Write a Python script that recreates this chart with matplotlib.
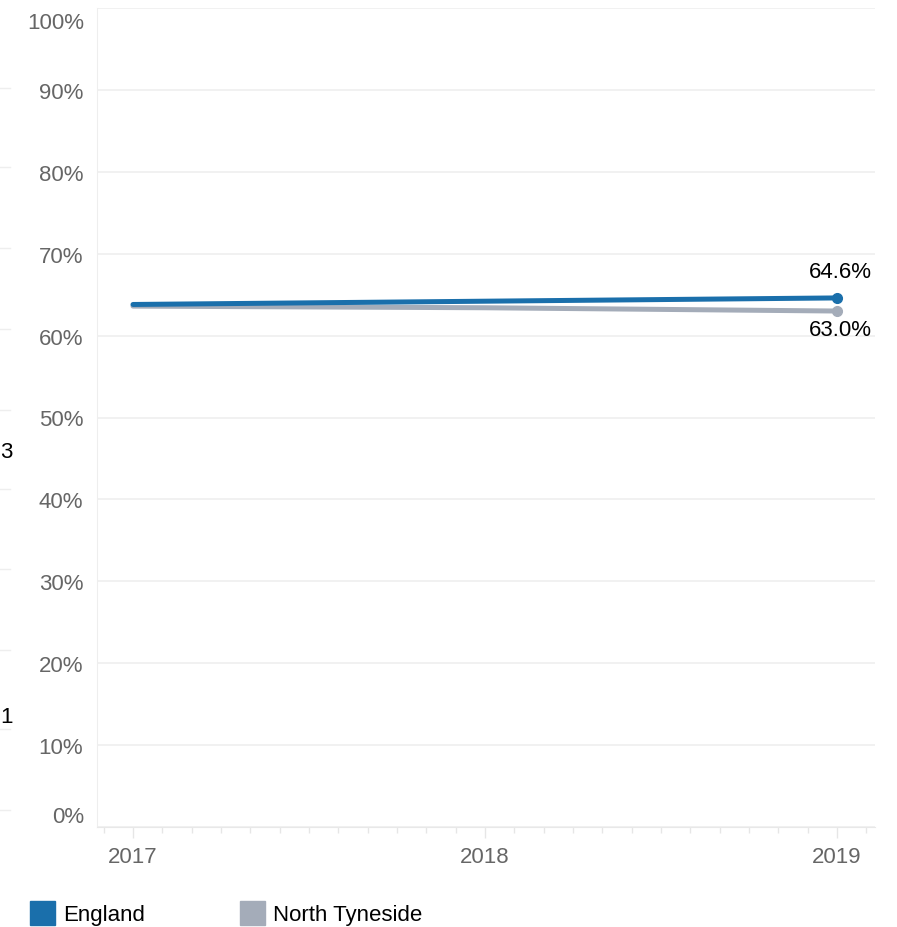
import matplotlib
matplotlib.use("Agg")
import matplotlib.pyplot as plt
from matplotlib.lines import Line2D
from matplotlib.patches import Rectangle

plt.rcParams['font.family'] = ['Liberation Sans', 'DejaVu Sans']

years = [2017, 2018, 2019]
england = [63.8, 64.2, 64.6]
north_tyneside = [63.6, 63.4, 63.0]
series_names = ["England", "North Tyneside"]
colors = ["#1a6fab", "#a4acb9"]
y_ticks = list(range(0, 101, 10))

fig = plt.figure(figsize=(8.97, 9.28), dpi=100)
W, H = 897, 928
ax = fig.add_axes([97 / W, 1 - 828 / H, (875 - 97) / W, (828 - 9) / H])

ax.set_ylim(0, 100)
ax.set_xlim(2017 - 36 / 352, 2019 + 38 / 352)

# gridlines; first and last labels are drawn by hand so they stay inside
ax.set_yticks(y_ticks)
ax.set_yticklabels(["" if t in (0, 100) else f"{t}%" for t in y_ticks])
ax.text(-13 / 778, 1 - 4 / 819, f"{y_ticks[-1]}%", transform=ax.transAxes, ha='right', va='top',
        fontsize=16, color='#666666')
ax.text(-13 / 778, 0, f"{y_ticks[0]}%", transform=ax.transAxes, ha='right', va='bottom',
        fontsize=16, color='#666666')
ax.grid(axis='y', color='#efefef', linewidth=1.2)
ax.set_axisbelow(True)

for s in ['top', 'right']:
    ax.spines[s].set_visible(False)
ax.spines['left'].set_color('#eeeeee')
ax.spines['bottom'].set_color('#e8e8e8')
ax.spines['bottom'].set_linestyle((0, (3, 1)))

ax.set_xticks(years)
ax.set_xticklabels([str(y) for y in years])
ax.set_xticks([years[0] + m / 12 for m in range(-1, 26)], minor=True)
ax.tick_params(axis='x', which='major', length=8, width=1, color='#e6e6e6',
               labelsize=16, labelcolor='#666666', pad=6)
ax.tick_params(axis='x', which='minor', length=4, width=1, color='#e6e6e6')
ax.tick_params(axis='y', length=0, labelsize=16, labelcolor='#666666', pad=10)

for vals, c in zip([north_tyneside, england], [colors[1], colors[0]]):
    ax.plot(years, vals, color=c, lw=3.6, solid_capstyle='round', zorder=3)
    ax.plot(years[-1], vals[-1], 'o', color=c, ms=7, zorder=4)

ax.annotate(f"{england[-1]:.1f}%", (years[-1], england[-1]), xytext=(25, 19),
            textcoords='offset points', ha='right', va='center', fontsize=16)
ax.annotate(f"{north_tyneside[-1]:.1f}%", (years[-1], north_tyneside[-1]), xytext=(25, -13.5),
            textcoords='offset points', ha='right', va='center', fontsize=16)

# legend
for name, c, x0 in zip(series_names, colors, [30, 240]):
    fig.add_artist(Rectangle((x0 / W, 1 - 926 / H), 25 / W, 24 / H,
                             transform=fig.transFigure, color=c))
    fig.text((x0 + 33) / W, 1 - 921 / H, name, fontsize=16, va='baseline', ha='left')

# fragments of neighbouring chart at the left edge
for gy in [89, 168, 249, 330, 411, 490, 570, 651, 730, 811]:
    fig.add_artist(Line2D([0, 10 / W], [1 - gy / H] * 2, color='#eeeeee', lw=1))
fig.text(0, 1 - 453 / H, "3", fontsize=16, va='center', ha='left')
fig.text(0, 1 - 718 / H, "1", fontsize=16, va='center', ha='left')

fig.savefig("out.png", dpi=100)
